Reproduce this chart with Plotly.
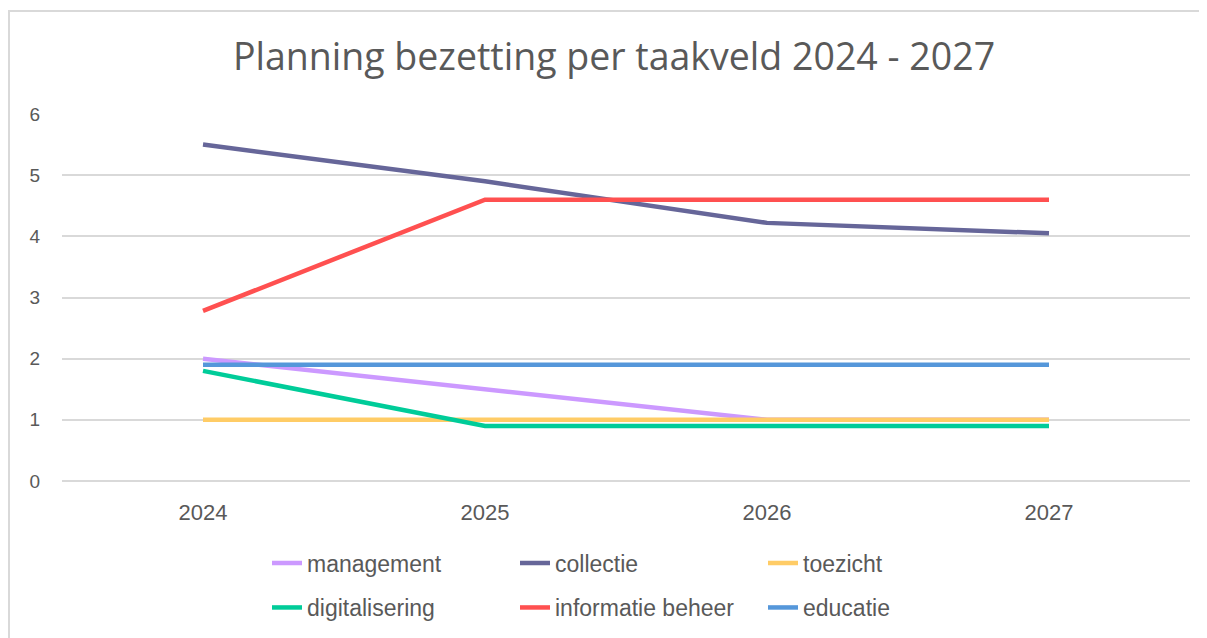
import plotly.graph_objects as go

years = ["2024", "2025", "2026", "2027"]
management = [2.0, 1.5, 1.0, 1.0]
collectie = [5.5, 4.9, 4.22, 4.05]
toezicht = [1.0, 1.0, 1.0, 1.0]
digitalisering = [1.8, 0.9, 0.9, 0.9]
informatie_beheer = [2.78, 4.6, 4.6, 4.6]
educatie = [1.9, 1.9, 1.9, 1.9]

series = [
    ("management", management, "#CC99FF", "legend"),
    ("collectie", collectie, "#666699", "legend"),
    ("toezicht", toezicht, "#FFCC66", "legend"),
    ("digitalisering", digitalisering, "#00CC99", "legend2"),
    ("informatie beheer", informatie_beheer, "#FF5050", "legend2"),
    ("educatie", educatie, "#5597DA", "legend2"),
]

# page is rendered with an 8px body margin; work in page pixel coordinates
OFF = 8
PW, PH = 1207, 638
W, H = PW - OFF, PH - OFF
L, R, T, B = 62 - OFF, 1190 - OFF, 114 - OFF, 481 - OFF
pw, ph = R - L, B - T

def px(x):
    return (x - OFF - L) / pw

def py(y):
    return (B - (y - OFF)) / ph

fig = go.Figure()
for name, vals, color, lg in series:
    fig.add_trace(go.Scatter(x=years, y=vals, name=name, mode="lines",
                             line=dict(color=color, width=4.5), legend=lg))

TEXT = "#595959"
GRID = "#D9D9D9"
legend_font = dict(family="Liberation Sans, Arial, sans-serif", size=23, color=TEXT)
leg_common = dict(orientation="h", xanchor="left", yanchor="middle",
                  entrywidth=203, entrywidthmode="pixels", font=legend_font,
                  bgcolor="rgba(0,0,0,0)", itemwidth=30)
fig.update_layout(
    width=W, height=H,
    margin=dict(l=L, r=W - R, t=T, b=H - B, autoexpand=False),
    paper_bgcolor="white", plot_bgcolor="white",
    title=dict(text="Planning bezetting per taakveld 2024 - 2027",
               font=dict(family="Open Sans, Noto Sans, sans-serif", size=37.5, color=TEXT),
               xref="container", yref="container", x=(614 - OFF) / W, y=1 - (57 - OFF) / H,
               xanchor="center", yanchor="middle"),
    xaxis=dict(range=[-0.5, 3.5], showgrid=False, ticks="", showline=False,
               tickfont=dict(family="Liberation Sans, Arial, sans-serif", size=22, color=TEXT),
               ticklabelstandoff=16, zeroline=False, automargin=False),
    yaxis=dict(range=[0, 6], dtick=1, showgrid=True, gridcolor=GRID, gridwidth=1.5,
               zeroline=True, zerolinecolor=GRID, zerolinewidth=1.5, ticks="",
               tickfont=dict(family="Liberation Sans, Arial, sans-serif", size=19, color=TEXT),
               ticklabelstandoff=21, automargin=False),
    legend=dict(x=px(267), y=py(563), **leg_common),
    legend2=dict(x=px(267), y=py(607.5), **leg_common),
    shapes=[dict(type="rect", xref="paper", yref="paper",
                 x0=px(9), x1=px(1220), y0=py(11), y1=py(660),
                 line=dict(color=GRID, width=2), fillcolor="rgba(0,0,0,0)", layer="below")],
)

fig.write_html("out.html")
